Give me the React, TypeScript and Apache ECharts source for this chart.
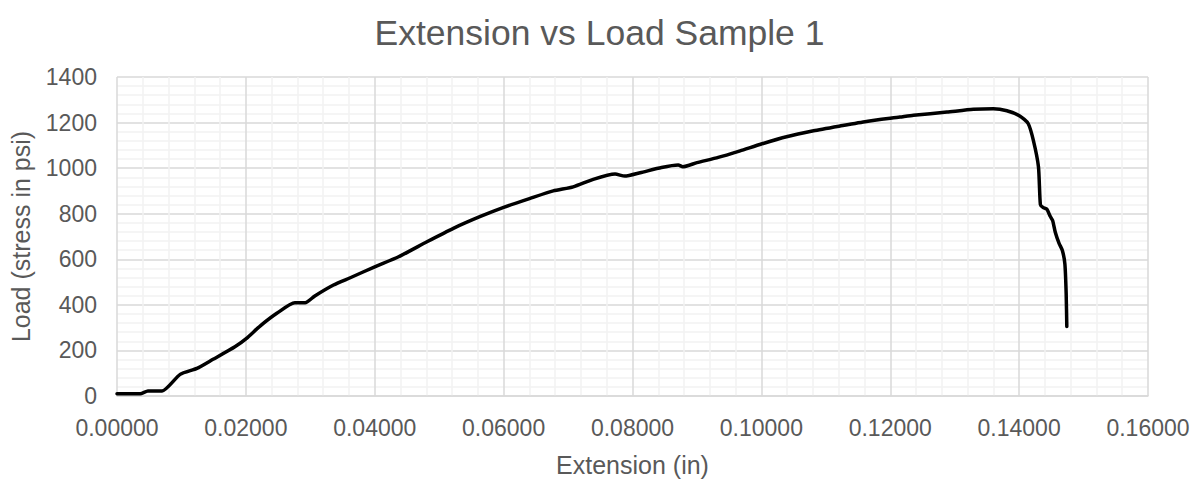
import React, { useEffect, useRef } from "react";
import * as echarts from "echarts";

const extension: number[] = [
  0, 0.0036, 0.0048, 0.007, 0.0098, 0.0124, 0.0149, 0.0183, 0.0201, 0.0222,
  0.0248, 0.0276, 0.0292, 0.0307, 0.0336, 0.0362, 0.04, 0.0437, 0.0481, 0.0522,
  0.0563, 0.06, 0.0641, 0.0677, 0.0708, 0.0739, 0.0773, 0.0788, 0.0812, 0.0845,
  0.0871, 0.0878, 0.09, 0.0933, 0.0967, 0.1, 0.1039, 0.1081, 0.1122, 0.1163,
  0.1215, 0.1236, 0.1288, 0.1329, 0.136, 0.1381, 0.1401, 0.1414, 0.1422, 0.143,
  0.1433, 0.1437, 0.1443, 0.1448, 0.1452, 0.1456, 0.1462, 0.1467, 0.1471,
  0.1473, 0.1474,
];
const load: number[] = [
  10, 10, 22, 22, 95, 121, 161, 216, 253, 307, 363, 409, 409, 439, 487, 519,
  567, 611, 677, 736, 787, 828, 867, 900, 918, 951, 974, 965, 980, 1003, 1014,
  1006, 1024, 1047, 1076, 1106, 1138, 1164, 1185, 1205, 1224, 1232, 1246, 1258,
  1261, 1252, 1229, 1196, 1123, 1006, 840, 828, 820, 790, 770, 720, 670, 640,
  580, 450, 305,
];

const titleText = "Extension vs Load Sample 1";
const xName = "Extension (in)";
const yName = "Load (stress in psi)";

export default function App() {
  const ref = useRef<HTMLDivElement>(null);
  useEffect(() => {
    if (!ref.current) return;
    const chart = echarts.init(ref.current, undefined, { renderer: "svg" });
    const font = "'Liberation Sans', Arial, sans-serif";
    const txt = "#595959";
    chart.setOption({
      animation: false,
      backgroundColor: "#ffffff",
      title: {
        text: titleText,
        left: "center",
        top: 10,
        textStyle: { fontFamily: font, fontSize: 35.5, fontWeight: "normal", color: txt },
      },
      grid: { left: 117, right: 51, top: 77, bottom: 83, outerBoundsMode: "none", containLabel: false },
      xAxis: {
        type: "value",
        min: 0,
        max: 0.16,
        interval: 0.02,
        name: xName,
        nameLocation: "middle",
        nameGap: 56,
        nameTextStyle: { fontFamily: font, fontSize: 25, color: txt },
        axisLine: { show: true, lineStyle: { color: "#d9d9d9", width: 1.5 } },
        axisTick: { show: false },
        axisLabel: {
          fontFamily: font,
          fontSize: 23,
          color: txt,
          margin: 20,
          formatter: (v: number) => v.toFixed(5),
        },
        splitLine: { show: true, lineStyle: { color: "#d9d9d9", width: 1.5 } },
        minorTick: { show: false, splitNumber: 5 },
        minorSplitLine: { show: true, lineStyle: { color: "#f2f2f2", width: 1.5 } },
      },
      yAxis: {
        type: "value",
        min: 0,
        max: 1400,
        interval: 200,
        name: yName,
        nameLocation: "middle",
        nameGap: 84,
        nameTextStyle: { fontFamily: font, fontSize: 25, color: txt },
        axisLine: { show: false },
        axisTick: { show: false },
        axisLabel: {
          fontFamily: font,
          fontSize: 23,
          color: txt,
          margin: 20,
          formatter: (v: number) => String(v),
        },
        splitLine: { show: true, lineStyle: { color: "#d9d9d9", width: 1.5 } },
        minorTick: { show: false, splitNumber: 5 },
        minorSplitLine: { show: true, lineStyle: { color: "#f2f2f2", width: 1.5 } },
      },
      series: [
        {
          type: "line",
          data: extension.map((x, i) => [x, load[i]]),
          showSymbol: false,
          symbol: "none",
          lineStyle: { color: "#000000", width: 3.5, cap: "round", join: "round" },
          smooth: 0.2,
        },
      ],
    });
    return () => chart.dispose();
  }, []);
  return (
    <div
      ref={ref}
      style={{ position: "absolute", left: 0, top: 0, width: 1199, height: 479 }}
    />
  );
}
